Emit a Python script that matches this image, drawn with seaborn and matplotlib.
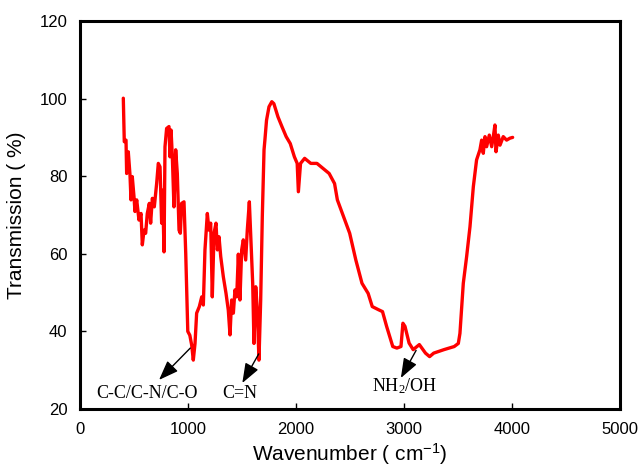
import numpy as np
import pandas as pd
import seaborn as sns
import matplotlib
matplotlib.use("Agg")
import matplotlib.pyplot as plt

# FTIR spectrum
wavenumber = [401, 410, 426, 432, 447, 463, 472, 484, 500, 509, 525, 546, 565, 577, 593,
              608, 623, 642, 654, 670, 688, 710, 725, 741, 756, 765, 778, 787, 802, 824,
              833, 843, 855, 870, 886, 901, 917, 929, 941, 963, 979, 988, 998, 1017, 1034,
              1049, 1065, 1080, 1105, 1127, 1142, 1157, 1179, 1194, 1210, 1225, 1241, 1259,
              1272, 1287, 1303, 1327, 1352, 1373, 1389, 1404, 1420, 1435, 1451, 1466, 1481,
              1497, 1512, 1534, 1549, 1568, 1580, 1599, 1611, 1627, 1642, 1657, 1673, 1688,
              1704, 1712, 1727, 1750, 1776, 1795, 1833, 1871, 1909, 1947, 1985, 2011, 2022,
              2042, 2080, 2137, 2194, 2250, 2307, 2357, 2383, 2440, 2497, 2554, 2611, 2668,
              2706, 2763, 2801, 2839, 2896, 2934, 2972, 2990, 3009, 3047, 3085, 3142, 3199,
              3237, 3275, 3370, 3465, 3503, 3518, 3549, 3580, 3611, 3642, 3672, 3703, 3719,
              3734, 3750, 3765, 3790, 3812, 3827, 3842, 3852, 3873, 3889, 3919, 3950, 3981,
              4006]
transmission = [100.1, 88.9, 89.3, 80.7, 86.3, 80.3, 73.9, 79.9, 74.7, 70.9, 73.9, 68.7, 70.4,
                62.3, 66.1, 65.3, 70.4, 73.0, 67.9, 74.3, 72.1, 78.2, 83.3, 82.4, 67.9, 76.4,
                60.5, 87.6, 92.3, 92.8, 85.0, 91.9, 85.0, 72.1, 86.8, 80.7, 66.1, 65.3, 73.0,
                73.4, 60.1, 50.7, 40.0, 39.0, 36.5, 32.6, 36.9, 44.7, 46.4, 48.9, 46.8, 61.0,
                70.4, 66.1, 67.9, 48.9, 65.3, 67.9, 61.0, 64.4, 59.3, 54.1, 49.8, 45.5, 39.1,
                48.1, 44.7, 50.7, 48.9, 59.9, 48.1, 61.0, 63.6, 58.4, 66.1, 73.4, 65.3, 52.4,
                36.9, 51.5, 45.5, 32.6, 48.1, 69.6, 86.8, 89.3, 94.4, 97.9, 99.2, 98.7, 95.3,
                92.7, 90.2, 88.4, 85.0, 83.3, 76.0, 83.3, 84.6, 83.3, 83.3, 82.0, 80.7, 78.1,
                73.9, 69.6, 65.3, 58.4, 52.4, 49.8, 46.4, 45.6, 45.1, 41.3, 36.1, 35.7, 36.1,
                42.1, 41.3, 37.0, 35.3, 36.6, 34.4, 33.5, 34.4, 35.3, 36.1, 36.9, 39.5, 52.4,
                59.3, 67.0, 77.3, 84.2, 86.8, 89.3, 85.9, 90.2, 87.6, 90.6, 87.6, 90.2, 93.2,
                86.3, 90.6, 88.0, 90.2, 89.3, 89.8, 90.0]

# band labels: text position and the two ends of each arrow
band_labels = ["C-C/C-N/C-O", "C=N", "NH$_2$/OH"]
label_xy = [(618, 24.1), (1480, 23.9), (3002, 25.8)]
arrow_from = [(1021, 35.7), (1655, 34.2), (3112, 35.1)]
arrow_tip = [(732, 27.5), (1503, 26.7), (2971, 28.0)]

df = pd.DataFrame({"wavenumber": wavenumber, "transmission": transmission})

sns.set_style("white")
plt.rcParams["font.family"] = ["Liberation Sans", "DejaVu Sans"]
plt.rcParams["mathtext.default"] = "regular"

fig = plt.figure(figsize=(6.41, 4.72), dpi=100)
ax = fig.add_axes([80 / 641, 1 - 409 / 472, 540 / 641, 388 / 472])

sns.lineplot(data=df, x="wavenumber", y="transmission", sort=False, estimator=None,
             color="#ff0000", linewidth=2.4, ax=ax)

ax.set_xlim(0, 5000)
ax.set_ylim(20, 120)
ax.set_xticks(np.arange(0, 5001, 1000))
ax.set_yticks(np.arange(20, 121, 20))
ax.tick_params(bottom=True, left=True, direction="in", length=4, width=1,
               color="black", labelcolor="black", labelsize=12)
ax.tick_params(axis="x", pad=9)
ax.tick_params(axis="y", pad=9)
for sp in ax.spines.values():
    sp.set_linewidth(2.2)
    sp.set_color("black")

ax.set_xlabel("Wavenumber ( cm$^{-1}$)", fontsize=15, labelpad=3, color="black")
ax.set_ylabel("Transmission ( %)", fontsize=15, labelpad=10, color="black")

for txt, xy_txt, xy_from, xy_tip in zip(band_labels, label_xy, arrow_from, arrow_tip):
    ax.annotate("", xy=xy_tip, xytext=xy_from,
                arrowprops=dict(arrowstyle="-|>,head_length=1.2,head_width=0.45",
                                color="black", lw=1, shrinkA=0, shrinkB=0))
    ax.text(xy_txt[0], xy_txt[1], txt, ha="center", va="center", fontsize=13,
            color="black", family=["Liberation Serif", "DejaVu Serif"])

fig.savefig("out.png", dpi=100)
